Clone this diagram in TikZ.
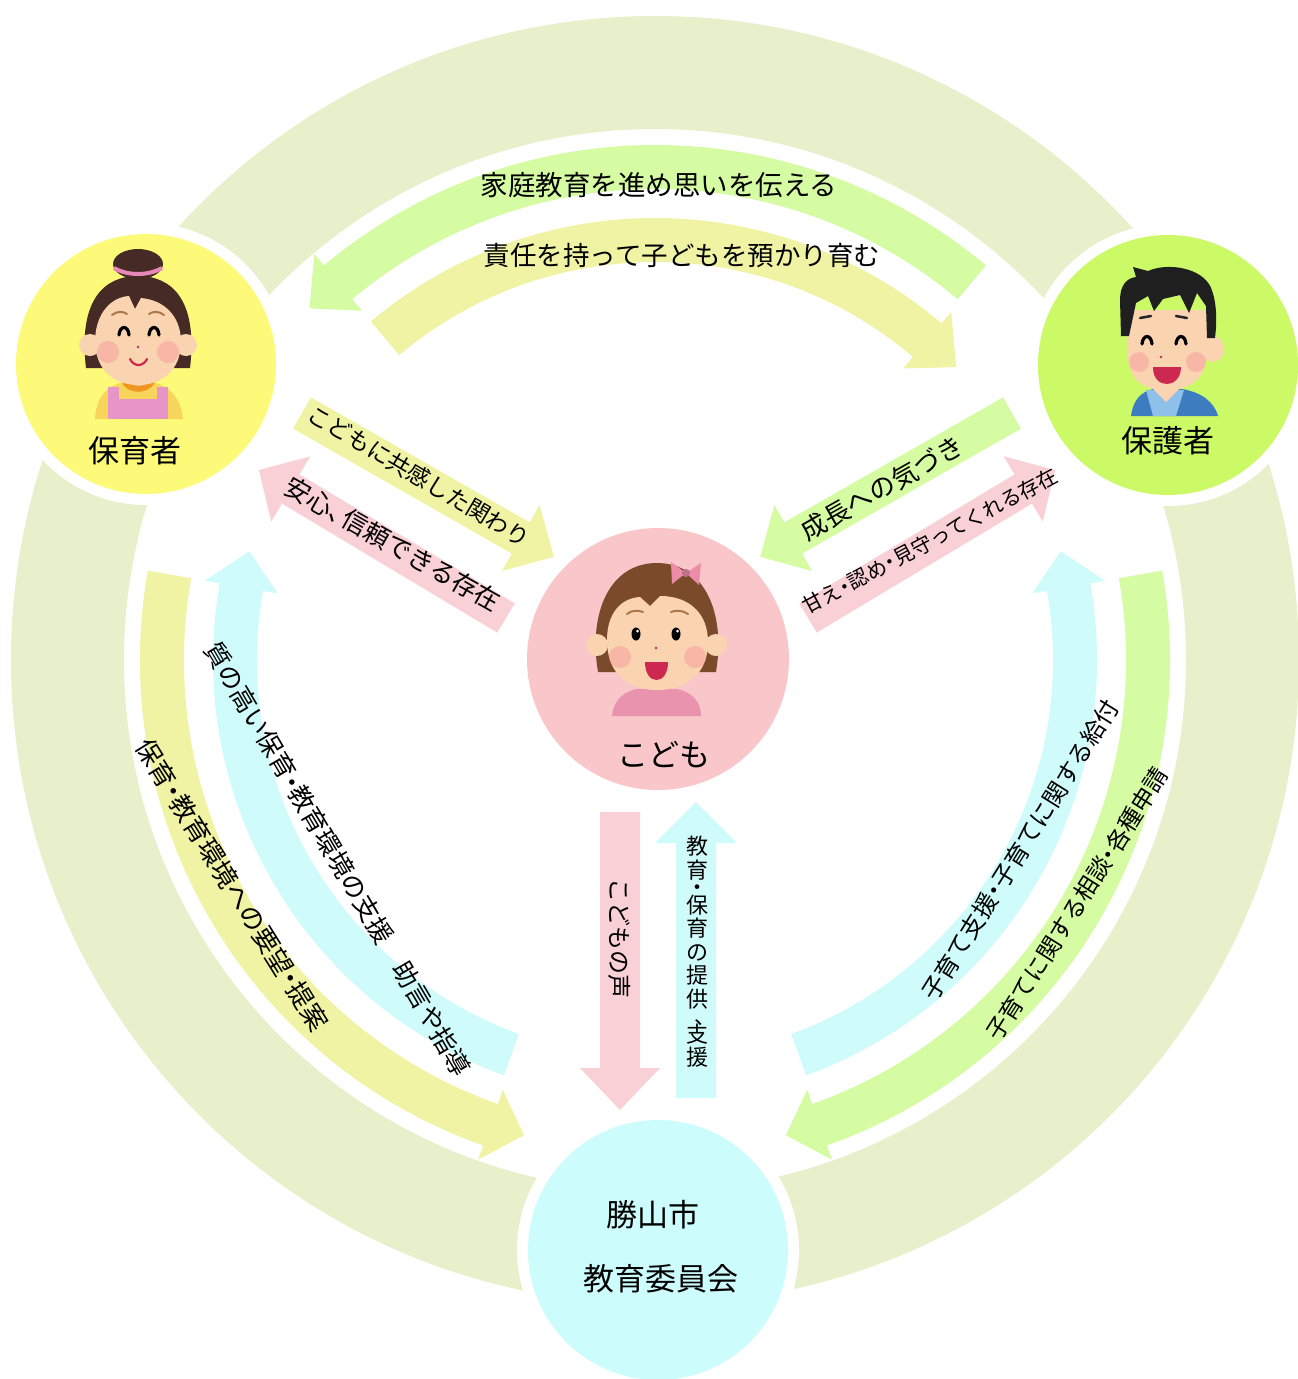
\documentclass[tikz,border=0pt]{standalone}
\usepackage{fontspec}
\newfontfamily\jp{Noto Sans CJK JP}
\usetikzlibrary{calc}

\definecolor{ringc}{HTML}{E7F0CB}
\definecolor{agreen}{HTML}{D5FBA3}
\definecolor{ayellow}{HTML}{F1F3A4}
\definecolor{acyan}{HTML}{D0FBFB}
\definecolor{apink}{HTML}{F9D0D6}
\definecolor{cyel}{HTML}{FCFA78}
\definecolor{cgrn}{HTML}{CCFA66}
\definecolor{cpnk}{HTML}{F9C6CA}
\definecolor{ccyn}{HTML}{CCFCFC}
\definecolor{skin}{HTML}{FAD3B0}
\definecolor{hairW}{HTML}{452A25}
\definecolor{hairM}{HTML}{1F1F1F}
\definecolor{hairC}{HTML}{7A4A2A}
\definecolor{cheek}{HTML}{F6A3A0}
\definecolor{mouthR}{HTML}{CC2850}
\definecolor{bandP}{HTML}{E888B8}
\definecolor{apronP}{HTML}{E795C8}
\definecolor{shirtY}{HTML}{F6D55A}
\definecolor{collarO}{HTML}{F0961E}
\definecolor{shirtB}{HTML}{3E7CC0}
\definecolor{shirtLB}{HTML}{8FC0EA}
\definecolor{bodyP}{HTML}{EA93AF}
\definecolor{bowP}{HTML}{EC8CA8}
\definecolor{browC}{HTML}{A9774A}

\newcommand\fs[1]{\fontsize{#1}{#1}\selectfont}
% half-width punctuation
\newcommand\nk{\makebox[.5em]{・}}
\newcommand\tk{\makebox[.55em][l]{、}}

% curved block arrow around the common centre C
% #1 colour, #2 mid radius, #3 half width, #4 head half width,
% #5 tail angle, #6 head base angle, #7 tip angle
\newcommand\arcarrow[7]{%
  \fill[#1, shift={(C)}] (#5:{#2+#3}) arc[start angle=#5, end angle=#6, radius={#2+#3}]
    -- (#6:{#2+#4}) -- (#7:#2) -- (#6:{#2-#4}) -- (#6:{#2-#3})
    arc[start angle=#6, end angle=#5, radius={#2-#3}] -- cycle;}

% straight block arrow
% #1 colour, #2 #3 tail centre, #4 direction, #5 length,
% #6 half width, #7 head half width, #8 head length
\newcommand\blockarrow[8]{%
  \fill[#1, shift={(#2,#3)}, rotate=-#4] (0,-#6) -- ({#5-#8},-#6) -- ({#5-#8},-#7)
    -- (#5,0) -- ({#5-#8},#7) -- ({#5-#8},#6) -- (0,#6) -- cycle;}

\tikzset{
  disk/.style={circle, inner sep=0pt, minimum size=260pt},
  lbl/.style={inner sep=0pt, text=black, font=\jp},
}

\begin{document}
\begin{tikzpicture}[x=1pt,y=-1pt]
\useasboundingbox (0,0) rectangle (1298,1379);
\fill[white] (0,0) rectangle (1298,1379);
\coordinate (C) at (655,660);

% outer ring
\draw[ringc, line width=113pt] (C) circle[radius=587.5];

% white halos round the four circles
\foreach \x/\y in {146/364, 1168/365, 658/659, 658/1250}
  \fill[white] (\x,\y) circle[radius=141];

% curved arrows
\arcarrow{agreen}{493}{22}{37}{310}{230}{225.5}
\arcarrow{ayellow}{420}{22}{37}{230}{310.4}{315.8}
\arcarrow{ayellow}{493}{22}{37}{190}{109.5}{105.4}
\arcarrow{acyan}{420}{22}{37}{110}{190}{195}
\arcarrow{acyan}{420}{22}{37}{70}{-10}{-15}
\arcarrow{agreen}{493}{22}{37}{-10}{70.5}{74.6}

% straight arrows
\blockarrow{ayellow}{302}{413}{29.74}{290}{18}{38}{38}
\blockarrow{apink}{506}{618}{210.93}{288}{17}{38}{37}
\blockarrow{agreen}{1012}{413}{150.26}{290}{18}{38}{38}
\blockarrow{apink}{808}{618}{-30.93}{288}{17}{38}{37}
\blockarrow{apink}{620}{812}{90}{298}{20}{40}{42}
\blockarrow{acyan}{696}{1098}{-90}{296}{20}{41}{41}

% circles
\node[disk, fill=cyel] (hoikusha) at (146,364) {};
\node[disk, fill=cgrn] (hogosha) at (1168,365) {};
\node[disk, fill=cpnk, minimum size=262pt] (kodomo) at (658,659) {};
\node[disk, fill=ccyn] (iinkai) at (658,1250) {};

% ---- caregiver (woman) ----
\fill[shirtY] (95,419) .. controls (96,400) and (104,388) .. (120,383) -- (156,383) .. controls (172,388) and (181,400) .. (183,419) -- cycle;
\fill[apronP] (108,387) rectangle (168,419);
\fill[shirtY] (119,384) rectangle (157,399);
\fill[collarO] (121,379) .. controls (124,396) and (152,396) .. (156,379) -- cycle;
\fill[skin] (127,379) .. controls (130,388) and (147,388) .. (150,379) -- cycle;
\fill[hairW] (138,264) ellipse[x radius=25, y radius=15];
\draw[bandP, line width=4] (114,268) .. controls (128,276) and (148,276) .. (162,268);
\fill[hairW] (86,368) .. controls (78,300) and (104,276) .. (138,276) .. controls (172,276) and (198,300) .. (190,368) -- cycle;
\fill[skin] (90,345) circle[radius=11];
\fill[skin] (186,345) circle[radius=11];
\fill[skin] (95,340) .. controls (96,312) and (112,297) .. (129,296) -- (135,309) -- (141,298) .. controls (164,300) and (181,316) .. (181,342) .. controls (181,370) and (162,385) .. (138,385) .. controls (114,385) and (95,370) .. (95,340) -- cycle;
\fill[cheek, opacity=.6] (108,352) circle[radius=11];
\fill[cheek, opacity=.6] (168,352) circle[radius=11];
\draw[browC, line width=2, line cap=round] (112,315) .. controls (117,311) and (123,311) .. (127,314);
\draw[browC, line width=2, line cap=round] (149,314) .. controls (153,311) and (159,311) .. (164,315);
\draw[black, line width=3.2, line cap=round] (119,335) .. controls (120,325) and (128,325) .. (129,335);
\draw[black, line width=3.2, line cap=round] (149,335) .. controls (150,325) and (158,325) .. (159,335);
\fill[mouthR] (138,347) circle[radius=1.4];
\draw[mouthR, line width=2.2, line cap=round] (130,359) .. controls (134,367) and (143,367) .. (147,359);

% ---- guardian (man) ----
\fill[shirtB] (1131,416) .. controls (1133,400) and (1141,392) .. (1153,389) -- (1182,389) .. controls (1200,392) and (1214,401) .. (1218,416) -- cycle;
\fill[shirtLB] (1146,390) -- (1184,390) -- (1176,416) -- (1153,416) -- cycle;
\fill[skin] (1152,388) -- (1180,388) -- (1166,402) -- cycle;
\fill[skin] (1213,349) ellipse[x radius=11, y radius=13];
\fill[skin] (1128,310) -- (1128,355) .. controls (1128,380) and (1144,390) .. (1166,390) .. controls (1192,390) and (1207,377) .. (1207,352) -- (1207,310) -- cycle;
\fill[hairM] (1121,336) -- (1120,300) .. controls (1120,285) and (1127,278) .. (1136,277) -- (1133,267) -- (1148,271) .. controls (1168,262) and (1203,268) .. (1211,288) .. controls (1217,302) and (1217,322) .. (1215,338) -- (1207,338) -- (1206,306) -- (1197,293) -- (1189,313) -- (1180,295) -- (1163,299) -- (1154,311) -- (1148,296) -- (1136,303) -- (1129,336) -- cycle;
\fill[cheek, opacity=.6] (1139,362) circle[radius=10];
\fill[cheek, opacity=.6] (1196,362) circle[radius=10];
\draw[black!85, line width=2.5, line cap=round] (1140,318) -- (1151,316);
\draw[black!85, line width=2.5, line cap=round] (1176,316) -- (1187,318);
\draw[black, line width=3.2, line cap=round] (1142,344) .. controls (1143,334) and (1151,334) .. (1152,344);
\draw[black, line width=3.2, line cap=round] (1176,344) .. controls (1177,334) and (1185,334) .. (1186,344);
\fill[mouthR] (1161,357) circle[radius=1.4];
\fill[mouthR] (1153,367) -- (1181,367) .. controls (1181,379) and (1173,384) .. (1167,384) .. controls (1160,384) and (1153,379) .. (1153,367) -- cycle;

% ---- child ----
\fill[bodyP] (612,716) .. controls (613,702) and (622,692) .. (637,689) -- (677,689) .. controls (692,692) and (701,702) .. (701,716) -- cycle;
\fill[hairC] (598,672) .. controls (588,612) and (610,563) .. (657,563) .. controls (704,563) and (726,612) .. (716,672) -- cycle;
\fill[skin] (597,645) circle[radius=11];
\fill[skin] (716,645) circle[radius=11];
\fill[skin] (607,640) .. controls (607,612) and (622,598) .. (640,597) -- (650,606) -- (660,596) .. controls (690,596) and (708,614) .. (708,642) .. controls (708,673) and (688,690) .. (657,690) .. controls (626,690) and (607,672) .. (607,640) -- cycle;
\fill[cheek, opacity=.6] (620,657) circle[radius=11];
\fill[cheek, opacity=.6] (695,657) circle[radius=11];
\draw[browC, line width=2, line cap=round] (627,614) .. controls (632,610) and (638,610) .. (643,612);
\draw[browC, line width=2, line cap=round] (671,612) .. controls (676,610) and (682,610) .. (688,614);
\fill[black] (636,634) ellipse[x radius=4.5, y radius=6.5];
\fill[black] (676,634) ellipse[x radius=4.5, y radius=6.5];
\fill[white] (637.5,631) circle[radius=1.5];
\fill[white] (677.5,631) circle[radius=1.5];
\fill[mouthR] (656,648) circle[radius=1.3];
\fill[mouthR] (645,662) -- (668,662) .. controls (668,673) and (663,680) .. (656.5,680) .. controls (650,680) and (645,673) .. (645,662) -- cycle;
\fill[bowP] (686,573) -- (671,562) -- (672,584) -- cycle;
\fill[bowP] (686,573) -- (701,563) -- (699,585) -- cycle;
\fill[bowP!80!black] (686,573) circle[radius=4];

% ---- labels ----
\node[lbl, font=\jp\fs{31}] (t-hoiku) at (135,451) {保育者};
\node[lbl, font=\jp\fs{31}] (t-hogo) at (1168,441) {保護者};
\node[lbl, font=\jp\fs{31}] (t-kodomo) at (664,755) {こども};
\node[lbl, font=\jp\fs{31}] (t-city) at (653,1215) {勝山市};
\node[lbl, font=\jp\fs{31}] (t-board) at (661,1279) {教育委員会};

\node[lbl, font=\jp\fs{27.5}] (t-top1) at (659,185) {家庭教育を進め思いを伝える};
\node[lbl, font=\jp\fs{26.5}] (t-top2) at (682,255) {責任を持って子どもを預かり育む};
\node[lbl, font=\jp\fs{23}, rotate=-30.6] (t-d1) at (419,476) {こどもに共感した関わり};
\node[lbl, font=\jp\fs{25.5}, rotate=-29.5] (t-d2) at (393,544) {安心\tk 信頼できる存在};
\node[lbl, font=\jp\fs{26}, rotate=29.5] (t-d3) at (882,488) {成長への気づき};
\node[lbl, font=\jp\fs{20.5}, rotate=28] (t-d4) at (930,541) {甘え\nk 認め\nk 見守ってくれる存在};
\node[lbl, font=\jp\fs{24}, rotate=-90] (t-v1) at (620,938) {こどもの声};
\node[lbl, font=\jp\fontsize{22}{23.5}\selectfont, align=center] (t-v2) at (697,952)
  {教\\育\\[-6pt]・\\[-6pt]保\\育\\の\\提\\供\\[-6pt]\makebox[1em][l]{\hspace{.38em}、}\\[-6pt]支\\援};
\node[lbl, font=\jp\fs{26}, rotate=-58] (t-l1) at (232,885) {保育\nk 教育環境への要望\nk 提案};
\node[lbl, font=\jp\fs{25.5}, rotate=-59.5] (t-l2) at (338,859) {質の高い保育\nk 教育環境の支援　助言や指導};
\node[lbl, font=\jp\fs{24}, rotate=58] (t-r1) at (1020,850) {子育て支援\nk 子育てに関する給付};
\node[lbl, font=\jp\fs{23.5}, rotate=57.7] (t-r2) at (1077,904) {子育てに関する相談\nk 各種申請};
\end{tikzpicture}
\end{document}
